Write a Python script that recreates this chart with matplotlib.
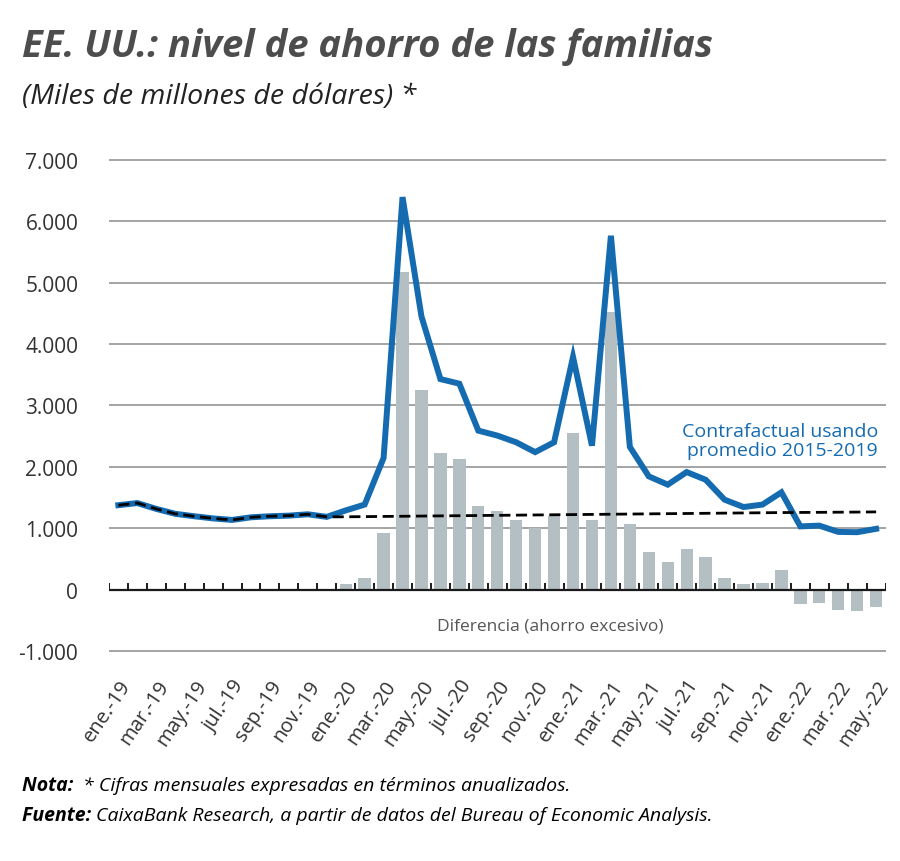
import numpy as np
import matplotlib
matplotlib.use("Agg")
import matplotlib.pyplot as plt

# Monthly data, ene-19 .. may-22 (41 months)
months = ["ene.-19", "feb.-19", "mar.-19", "abr.-19", "may.-19", "jun.-19",
          "jul.-19", "ago.-19", "sep.-19", "oct.-19", "nov.-19", "dic.-19",
          "ene.-20", "feb.-20", "mar.-20", "abr.-20", "may.-20", "jun.-20",
          "jul.-20", "ago.-20", "sep.-20", "oct.-20", "nov.-20", "dic.-20",
          "ene.-21", "feb.-21", "mar.-21", "abr.-21", "may.-21", "jun.-21",
          "jul.-21", "ago.-21", "sep.-21", "oct.-21", "nov.-21", "dic.-21",
          "ene.-22", "feb.-22", "mar.-22", "abr.-22", "may.-22"]

ahorro = [1375, 1410, 1315, 1235, 1195, 1160, 1135, 1178, 1195, 1205, 1227, 1185,
          1290, 1385, 2145, 6395, 4450, 3430, 3355, 2590, 2510, 2400, 2240, 2400,
          3790, 2345, 5765, 2325, 1845, 1710, 1915, 1790, 1465, 1345, 1385, 1585,
          1030, 1042, 940, 935, 990]

contrafactual = [1375, 1410, 1315, 1235, 1195, 1160, 1135, 1178, 1195, 1205, 1227, 1185,
                 1186, 1189, 1192, 1195, 1198, 1201, 1204, 1207, 1210, 1213, 1216, 1219,
                 1222, 1225, 1228, 1231, 1234, 1237, 1240, 1243, 1246, 1249, 1252, 1255,
                 1257, 1259, 1261, 1263, 1266]

diferencia = [None] * 12 + [90, 185, 925, 5180, 3255, 2220, 2130, 1365, 1275, 1130, 1000, 1195,
                            2550, 1130, 4520, 1075, 615, 450, 665, 525, 195, 98, 108, 315,
                            -235, -218, -325, -342, -282]

yticks = [-1000, 0, 1000, 2000, 3000, 4000, 5000, 6000, 7000]
ytick_labels = ["-1.000", "0", "1.000", "2.000", "3.000", "4.000", "5.000", "6.000", "7.000"]

blue = "#156bb0"
bar_gray = "#b4bfc3"
text_gray = "#4d4d4d"

plt.rcParams["font.family"] = ["Open Sans", "DejaVu Sans"]

fig = plt.figure(figsize=(9, 8.62), dpi=100)
ax = fig.add_axes([0.121, 0.2401, 0.863, 0.5767])

x = np.arange(len(months))
bx = [i for i, v in enumerate(diferencia) if v is not None]
bv = [v for v in diferencia if v is not None]
ax.bar(bx, bv, width=0.65, color=bar_gray, zorder=2)
ax.plot(x, ahorro, color=blue, lw=4.3, solid_joinstyle="miter", zorder=3)
ax.plot(x, contrafactual, color="black", lw=2.0, ls=(0, (4, 2)), zorder=4)

ax.set_xlim(-0.5, len(months) - 0.5)
ax.set_ylim(-1050, 7050)

# horizontal grid, black zero line with small upward ticks
for s in ax.spines.values():
    s.set_visible(False)
ax.set_yticks(yticks)
ax.set_yticklabels(ytick_labels)
ax.grid(axis="y", color="#8c8c8c", lw=1.1, zorder=0)
ax.axhline(0, color="#1a1a1a", lw=1.6, zorder=5)
ax.vlines(np.arange(len(months) + 1) - 0.5, 0, 115, color="#1a1a1a", lw=1.4, zorder=5)
ax.tick_params(axis="y", length=0, pad=22, labelsize=15, labelcolor="#333333")

ax.set_xticks(x[::2])
ax.set_xticklabels(months[::2], rotation=56, ha="right", rotation_mode="anchor",
                   fontsize=14.5, color="#333333")
ax.tick_params(axis="x", length=0, pad=16)

ax.text(40.1, 2430, "Contrafactual usando\npromedio 2015-2019", color=blue,
        ha="right", va="center", fontsize=14, linespacing=1.05)
ax.text(22.8, -580, "Diferencia (ahorro excesivo)", color="#555555",
        ha="center", va="center", fontsize=12.5)

fig.text(0.024, 0.945, "EE. UU.: nivel de ahorro de las familias", fontsize=27.5,
         fontweight="bold", fontstyle="italic", color=text_gray, va="center")
fig.text(0.024, 0.887, "(Miles de millones de dólares) *", fontsize=20.5,
         fontstyle="italic", color="#222222", va="center")

# footnotes: bold label followed directly by the text
renderer = fig.canvas.get_renderer()
for yy, label, body in [(0.088, "Nota:  ", "* Cifras mensuales expresadas en términos anualizados."),
                        (0.053, "Fuente: ", "CaixaBank Research, a partir de datos del Bureau of Economic Analysis.")]:
    t = fig.text(0.024, yy, label, fontsize=14, fontweight="bold", fontstyle="italic", va="center")
    bb = t.get_window_extent(renderer).transformed(fig.transFigure.inverted())
    fig.text(bb.x1, yy, body, fontsize=14, fontstyle="italic", va="center")

fig.savefig("out.png", dpi=100)
